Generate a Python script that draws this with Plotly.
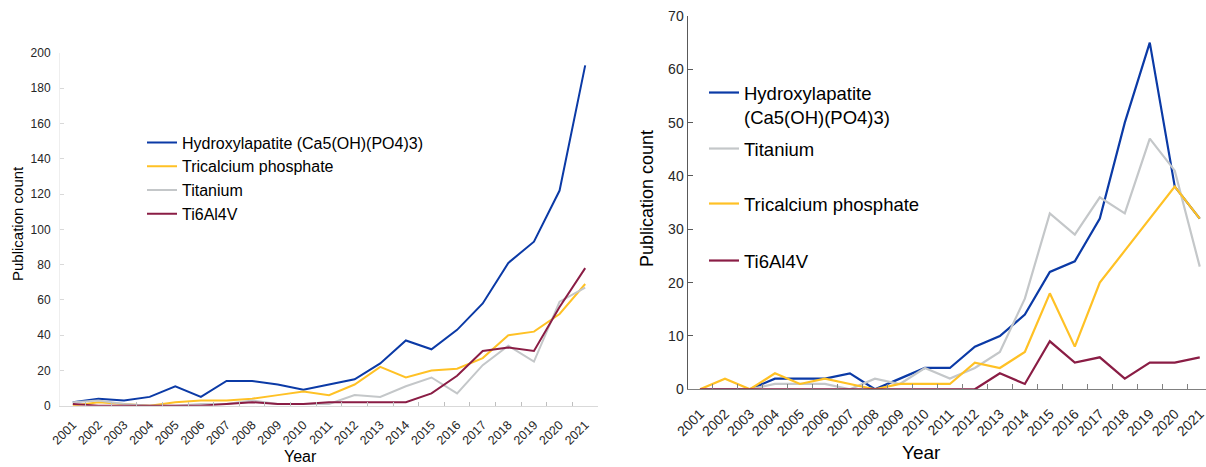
import plotly.graph_objects as go

years = [str(y) for y in range(2001, 2022)]

# Left chart
left_hydroxy = [2, 4, 3, 5, 11, 5, 14, 14, 12, 9, 12, 15, 24, 37, 32, 43, 58, 81, 93, 122, 193]
left_tcp = [0, 2, 1, 0, 2, 3, 3, 4, 6, 8, 6, 12, 22, 16, 20, 21, 27, 40, 42, 52, 69]
left_titanium = [2, 3, 1, 0, 0, 1, 1, 3, 1, 1, 1, 6, 5, 11, 16, 7, 23, 34, 25, 59, 67]
left_ti64 = [1, 0, 0, 0, 0, 0, 1, 2, 1, 1, 2, 2, 2, 2, 7, 17, 31, 33, 31, 56, 78]

# Right chart
right_hydroxy = [0, 0, 0, 2, 2, 2, 3, 0, 2, 4, 4, 8, 10, 14, 22, 24, 32, 50, 65, 38, 32]
right_titanium = [0, 0, 0, 1, 1, 1, 0, 2, 1, 4, 2, 4, 7, 17, 33, 29, 36, 33, 47, 41, 23]
right_tcp = [0, 2, 0, 3, 1, 2, 1, 0, 1, 1, 1, 5, 4, 7, 18, 8, 20, 26, 32, 38, 32]
right_ti64 = [0, 0, 0, 0, 0, 0, 0, 0, 0, 0, 0, 0, 3, 1, 9, 5, 6, 2, 5, 5, 6]

BLUE = "#0b3aa6"
GOLD = "#ffc125"
GRAY = "#c4c7c9"
MAROON = "#8a1d45"
FONT = "Liberation Sans, Arial, sans-serif"
TXT = "#262626"

W, H = 1206, 467

def px_x(x):
    return x / W

def px_y(y):
    return (H - y) / H

fig = go.Figure()

left = [("Hydroxylapatite (Ca5(OH)(PO4)3)", left_hydroxy, BLUE),
        ("Tricalcium phosphate", left_tcp, GOLD),
        ("Titanium", left_titanium, GRAY),
        ("Ti6Al4V", left_ti64, MAROON)]
for i, (name, vals, col) in enumerate(left):
    fig.add_trace(go.Scatter(x=years, y=vals, name=name, mode="lines",
                             line=dict(color=col, width=2), xaxis="x", yaxis="y",
                             legend="legend", legendgroup="L%d" % i))

right = [("Hydroxylapatite<br>(Ca5(OH)(PO4)3)", right_hydroxy, BLUE, "legend2"),
         ("Titanium", right_titanium, GRAY, "legend3"),
         ("Tricalcium phosphate", right_tcp, GOLD, "legend4"),
         ("Ti6Al4V", right_ti64, MAROON, "legend5")]
for i, (name, vals, col, lg) in enumerate(right):
    fig.add_trace(go.Scatter(x=years, y=vals, name=name, mode="lines",
                             line=dict(color=col, width=2.2), xaxis="x2", yaxis="y2",
                             legend=lg))

def rlegend(top):
    return dict(x=px_x(704), y=px_y(top), xanchor="left", yanchor="top",
                bgcolor="rgba(0,0,0,0)", font=dict(size=18.5, color="#000000"),
                itemwidth=30, valign="top")

fig.update_layout(
    width=W, height=H,
    margin=dict(l=0, r=0, t=0, b=0),
    paper_bgcolor="white", plot_bgcolor="white",
    font=dict(family=FONT, color=TXT),
    showlegend=True,
    xaxis=dict(domain=[px_x(60), px_x(598)], type="category", range=[-0.5, 20.5],
               showline=True, linecolor="#d9d9d9", linewidth=1,
               ticks="inside", tickson="boundaries", ticklen=4, tickcolor="#bfbfbf",
               tickangle=-45, tickfont=dict(size=12.5, color=TXT), ticklabelstandoff=6,
               showgrid=False, zeroline=False, anchor="y", automargin=False),
    yaxis=dict(domain=[px_y(405.7), px_y(53)], range=[0, 200], tickvals=list(range(0, 201, 20)),
               showline=True, linecolor="#eeeeee", ticks="inside", ticklen=4, tickcolor="#d9d9d9",
               tickfont=dict(size=12, color=TXT), ticklabelstandoff=6,
               showgrid=False, zeroline=False, anchor="x", automargin=False),
    xaxis2=dict(domain=[px_x(687.5), 1.0], type="category", range=[-0.5, 20.25],
                showline=True, linecolor="#808080", linewidth=1,
                ticks="inside", tickson="boundaries", ticklen=5, tickcolor="#808080",
                tickangle=-45, tickfont=dict(size=14, color=TXT), ticklabelstandoff=10,
                showgrid=False, zeroline=False, anchor="y2", automargin=False),
    yaxis2=dict(domain=[px_y(389.3), px_y(16)], range=[0, 70], tickvals=list(range(0, 71, 10)),
                showline=True, linecolor="#595959", ticks="inside", ticklen=5, tickcolor="#595959",
                tickfont=dict(size=14, color=TXT), showgrid=False, zeroline=False,
                anchor="x2", automargin=False),
    legend=dict(x=px_x(142), y=px_y(125.5), xanchor="left", yanchor="top",
                bgcolor="rgba(0,0,0,0)", font=dict(size=16, color="#000000"),
                itemwidth=30, traceorder="grouped", tracegroupgap=0),
    legend2=rlegend(74),
    legend3=rlegend(130),
    legend4=rlegend(185),
    legend5=rlegend(242),
    annotations=[
        dict(text="Publication count", x=px_x(18), y=px_y(224), xref="paper", yref="paper",
             xanchor="center", yanchor="middle",
             showarrow=False, textangle=-90, font=dict(size=15, color="#000000")),
        dict(text="Year", x=px_x(300), y=px_y(456), xref="paper", yref="paper",
             xanchor="center", yanchor="middle",
             showarrow=False, font=dict(size=16, color="#000000")),
        dict(text="Publication count", x=px_x(647), y=px_y(198), xref="paper", yref="paper",
             xanchor="center", yanchor="middle",
             showarrow=False, textangle=-90, font=dict(size=18, color="#000000")),
        dict(text="Year", x=px_x(921), y=px_y(452), xref="paper", yref="paper",
             xanchor="center", yanchor="middle",
             showarrow=False, font=dict(size=19, color="#000000")),
    ],
)

fig.write_html("out.html")
